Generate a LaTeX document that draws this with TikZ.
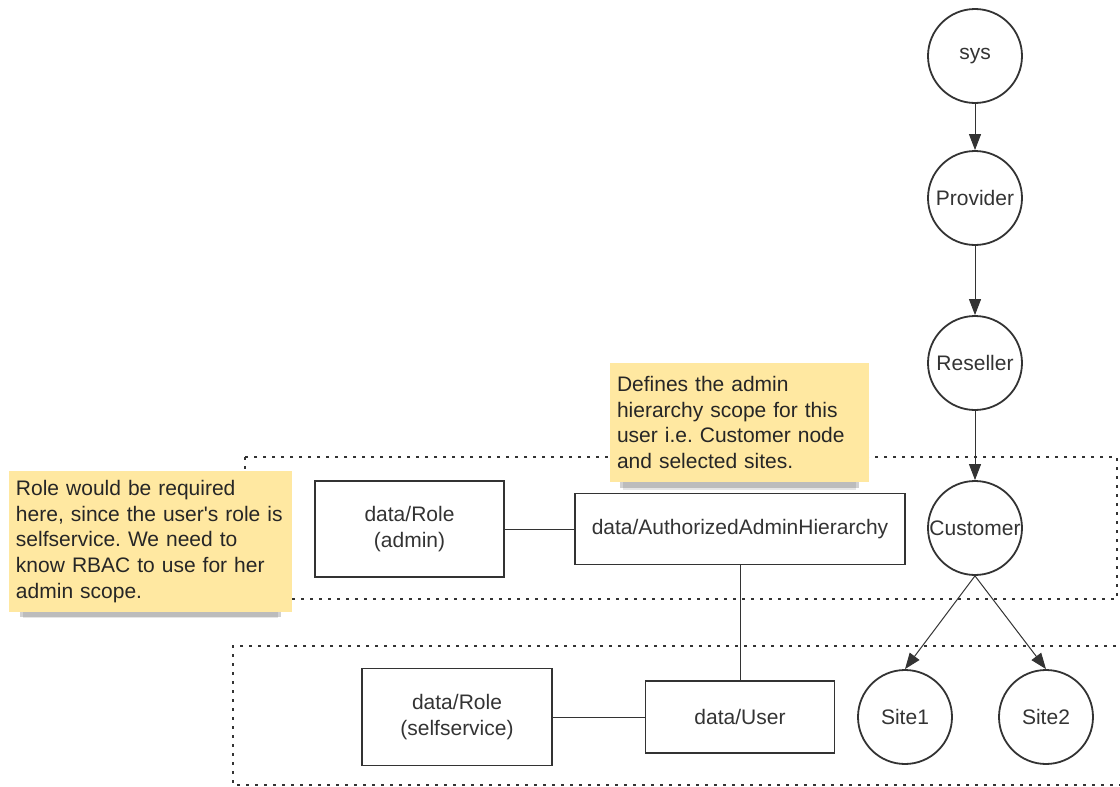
\documentclass[tikz,border=0pt]{standalone}
\usepackage{fontspec}
\setmainfont{Liberation Sans}
\usetikzlibrary{arrows.meta, shadows}
\definecolor{ink}{RGB}{51,51,51}
\definecolor{sticky}{RGB}{255,232,161}
\frenchspacing

\begin{document}
\begin{tikzpicture}[x=1pt, y=-1pt,
        every node/.style={font=\fontsize{21}{25.8}\selectfont, text=ink},
        entity/.style={circle, draw=ink, line width=1.8pt, minimum size=94pt, inner sep=0pt},
        block/.style={draw=ink, line width=1.8pt, align=center, inner sep=0pt},
        note/.style={fill=sticky, align=left, inner xsep=7pt, inner ysep=0pt, text=black!85,
                     drop shadow={shadow xshift=0pt, shadow yshift=-15pt, shadow scale=0.9, fill=black, opacity=0.10},
                     drop shadow={shadow xshift=0pt, shadow yshift=-12pt, shadow scale=0.92, fill=black, opacity=0.18}},
        line/.style={draw=ink, line width=1pt},
        arr/.style={line, -{Triangle[length=16pt, width=12pt]}},
        zone/.style={draw=ink, line width=1.3pt, dash pattern=on 3pt off 6pt}
    ]
        \useasboundingbox (0,0) rectangle (1120,787);

        % -- dotted scopes --
        \draw[zone] (245,457) rectangle (1117,599);
        \draw[zone] (1125,646) -- (233,646) -- (233,785) -- (1125,785);

        % -- hierarchy (right column) --
        \node[entity] (sys)   at (975,56)  {sys};
        \node[entity] (prov)  at (975,198) {Provider};
        \node[entity] (resl)  at (975,363) {Reseller};
        \node[entity] (cust)  at (975,528) {Customer};
        \node[entity] (site1) at (905,717) {Site1};
        \node[entity] (site2) at (1046,717) {Site2};

        % -- data blocks --
        \node[block, minimum width=189pt, minimum height=96pt] (roleadm)  at (409.5,529) {data/Role\\(admin)};
        \node[block, minimum width=330pt, minimum height=71pt] (aah)      at (740,529)   {data/AuthorizedAdminHierarchy};
        \node[block, minimum width=190pt, minimum height=97pt] (roleself) at (457,717)   {data/Role\\(selfservice)};
        \node[block, minimum width=189pt, minimum height=72pt] (user)     at (740,717)   {data/User};

        % hierarchy arrows
        \draw[arr] (sys) -- (prov);
        \draw[arr] (prov) -- (resl);
        \draw[arr] (resl) -- (cust);
        \draw[arr] (cust.south) -- (site1.north);
        \draw[arr] (cust.south) -- (site2.north);

        % plain links between data blocks
        \draw[line] (roleadm) -- (aah);
        \draw[line] (aah.south) -- (user.north);
        \draw[line] (roleself) -- (user);

        % -- sticky notes --
        \node[note, minimum height=141pt, text width=269pt] (noterole) at (150.5,541.5)
            {Role would be required\\here, since the user\textquotesingle s role is\\selfservice. We need to\\know RBAC to use for her\\admin scope.};
        \node[note, minimum height=119pt, text width=245pt] (notescope) at (739.5,422.5)
            {Defines the admin\\hierarchy scope for this\\user i.e. Customer node\\and selected sites.};
    \end{tikzpicture}
\end{document}
